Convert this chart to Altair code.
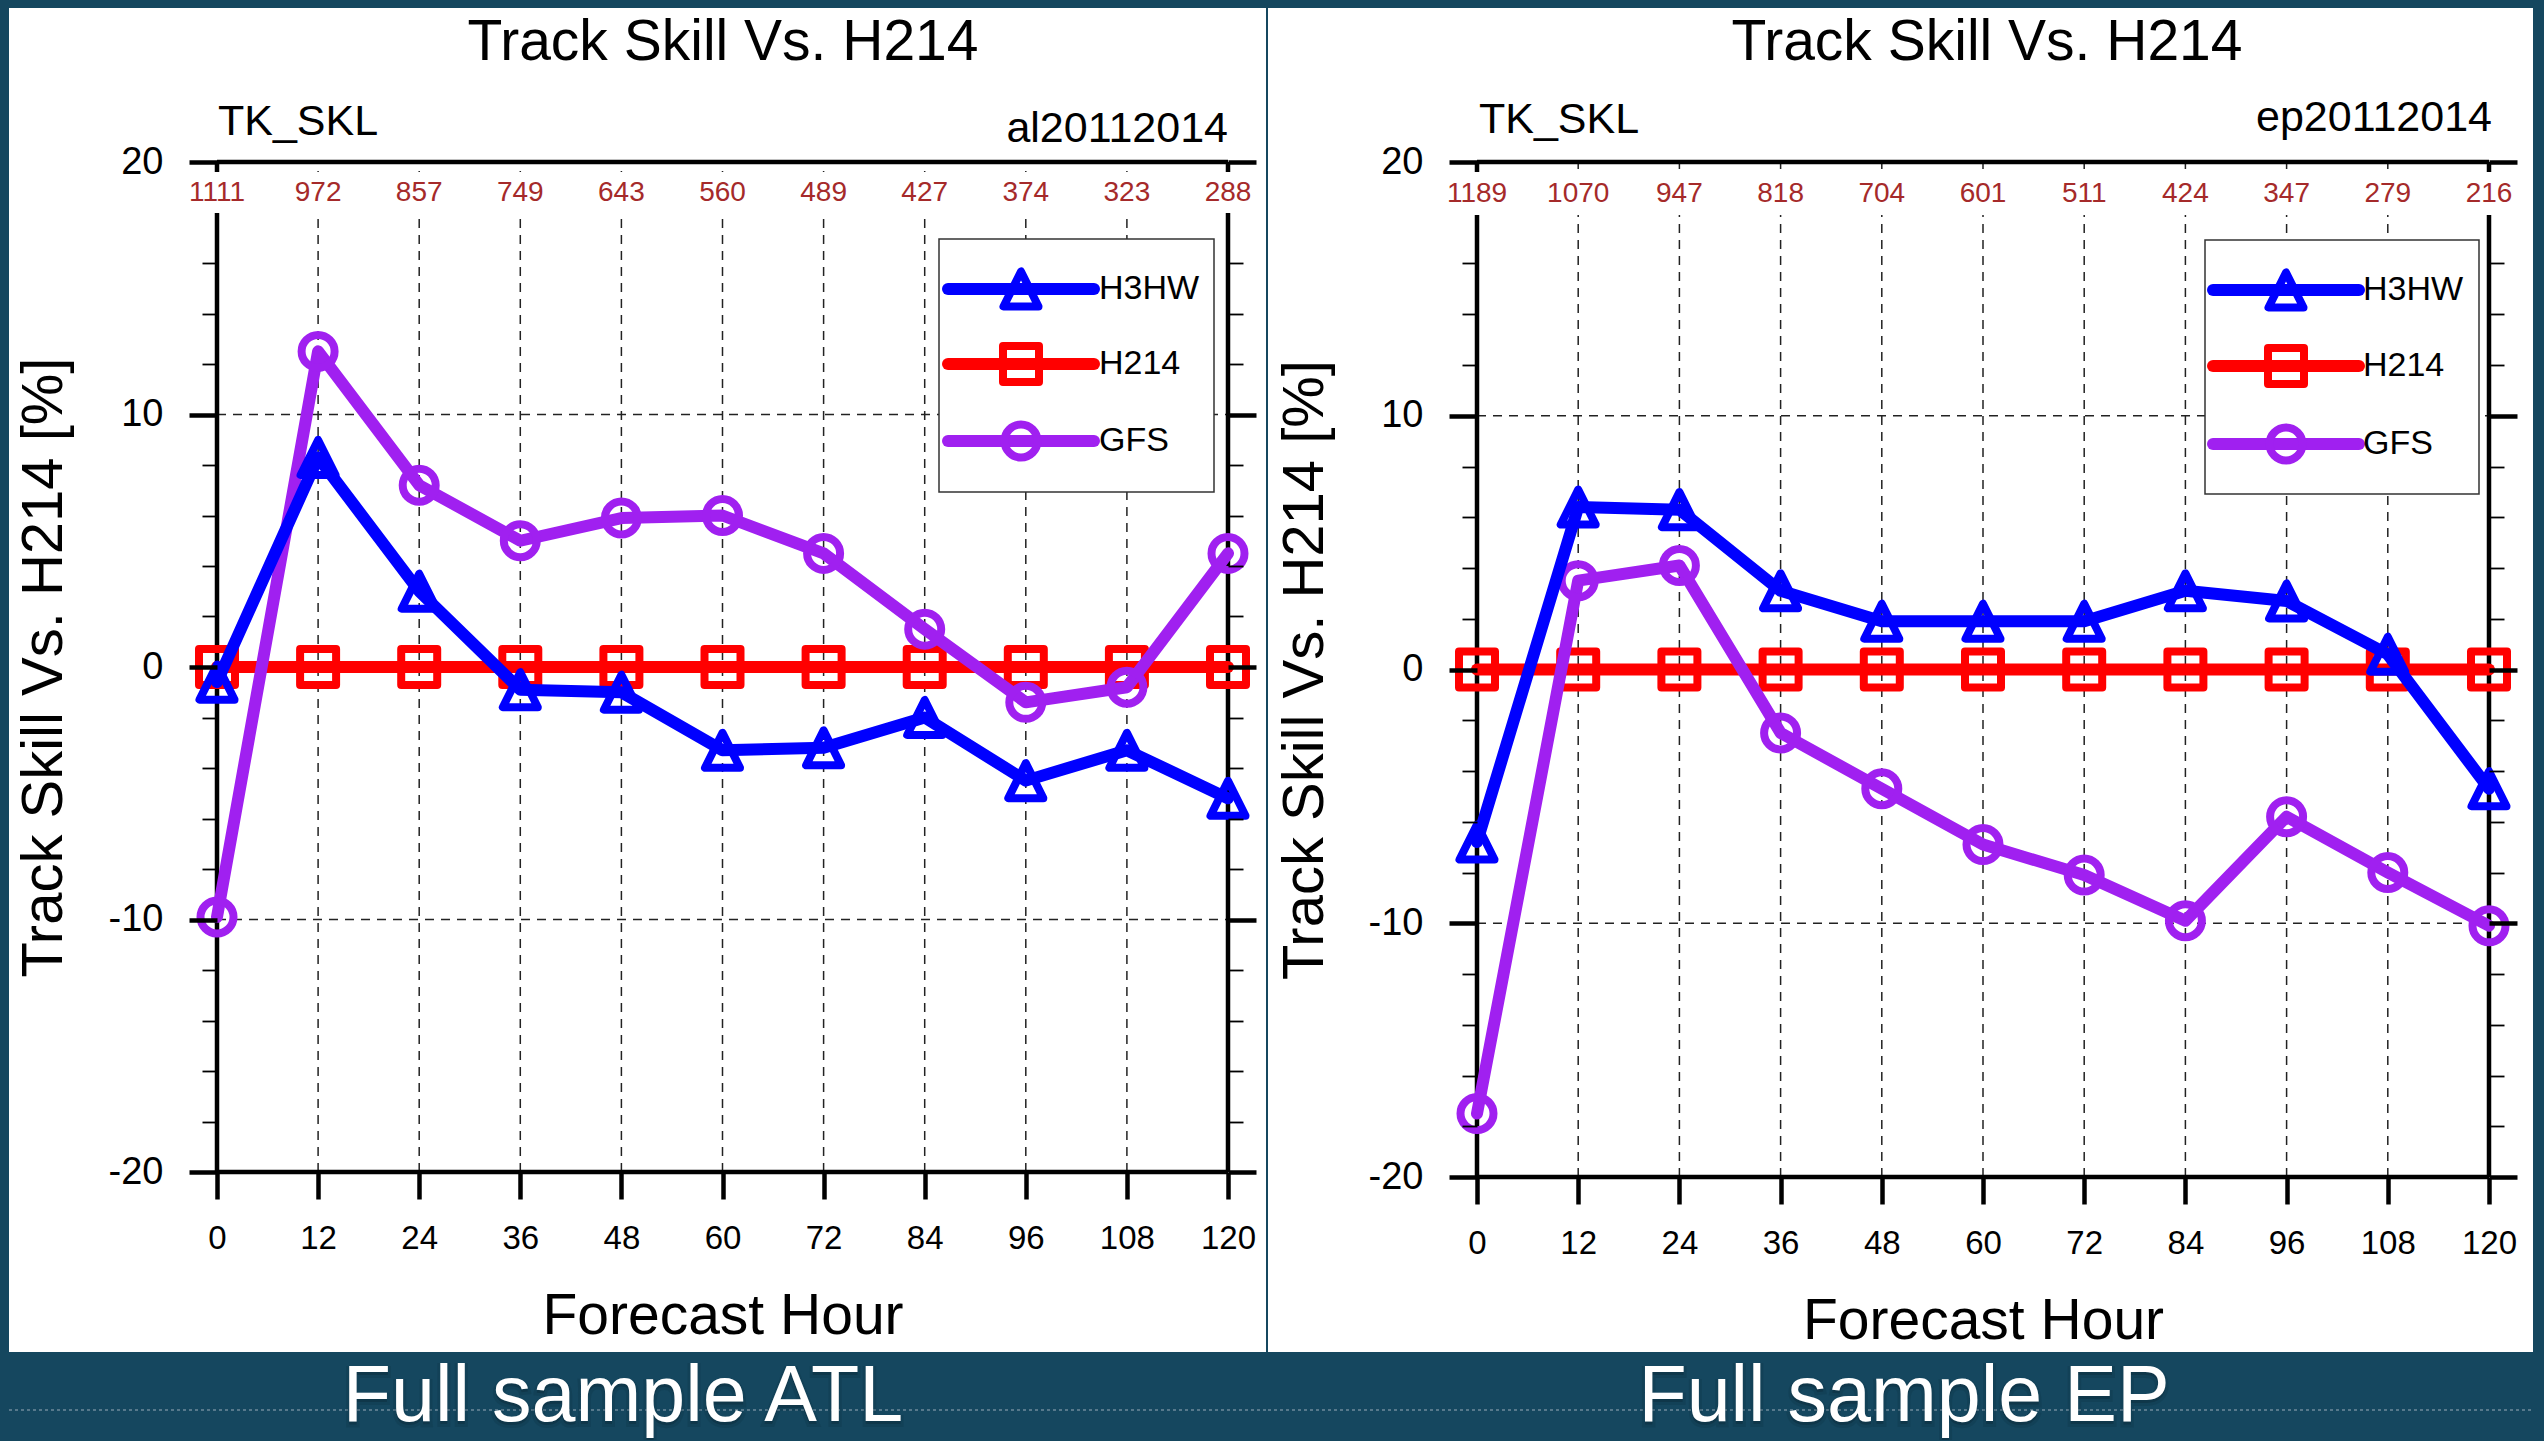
import altair as alt
import pandas as pd

# ---------------- data ----------------
hours = [0, 12, 24, 36, 48, 60, 72, 84, 96, 108, 120]
atl_counts = [1111, 972, 857, 749, 643, 560, 489, 427, 374, 323, 288]
ep_counts = [1189, 1070, 947, 818, 704, 601, 511, 424, 347, 279, 216]

atl_h3hw = [-0.6, 8.3, 3.0, -0.9, -1.0, -3.3, -3.2, -2.0, -4.5, -3.3, -5.2]
atl_h214 = [0, 0, 0, 0, 0, 0, 0, 0, 0, 0, 0]
atl_gfs = [-9.9, 12.5, 7.2, 5.0, 5.9, 6.0, 4.5, 1.5, -1.4, -0.8, 4.5]

ep_h3hw = [-6.8, 6.4, 6.3, 3.1, 1.9, 1.9, 1.9, 3.1, 2.7, 0.6, -4.7]
ep_h214 = [0, 0, 0, 0, 0, 0, 0, 0, 0, 0, 0]
ep_gfs = [-17.5, 3.5, 4.1, -2.5, -4.7, -6.9, -8.1, -9.9, -5.8, -8.0, -10.1]

series_names = ["H3HW", "H214", "GFS"]
y_ticks = [-20, -18, -16, -14, -12, -10, -8, -6, -4, -2, 0, 2, 4, 6, 8, 10, 12, 14, 16, 20]
y_grid = [-10, 0, 10]
y_frame = [-20, 20]
x_frame = [0, 120]
x_grid = [12, 24, 36, 48, 60, 72, 84, 96, 108]

# ---------------- styles ----------------
FONT = "Liberation Sans, Arial, Helvetica, sans-serif"
NAVY = "#15475f"
COUNT_COLOR = "#a52a2a"
TRI = "M0,-1L-1,1L1,1Z"
STYLE = {
    "H3HW": {"color": "#0000ff", "shape": TRI, "size": 1225},
    "H214": {"color": "#ff0000", "shape": "square", "size": 1296},
    "GFS": {"color": "#a020f0", "shape": "circle", "size": 1089},
}
DRAW_ORDER = ["H214", "GFS", "H3HW"]

x_scale = alt.Scale(domain=[0, 120], nice=False, zero=False)
y_scale = alt.Scale(domain=[-20, 20], nice=False, zero=False)
MAJOR = "datum.value % 10 === 0"


def y_axis(orient, show, title_x=0):
    kw = dict(
        orient=orient, values=y_ticks,
        tickSize={"condition": {"test": MAJOR, "value": 28}, "value": 15},
        tickWidth={"condition": {"test": MAJOR, "value": 4.5}, "value": 1.8},
        tickColor="black", domain=False, grid=False, zindex=1,
    )
    if show:
        kw.update(
            labelExpr=MAJOR + " ? '' + datum.value : ''",
            labelFont=FONT, labelFontSize=38, labelColor="black",
            labelPadding=26, labelOverlap=False,
            title="Track Skill Vs. H214 [%]", titleFont=FONT, titleFontSize=58,
            titleFontWeight="normal", titleColor="black", titleX=title_x,
            titleAngle=270, titleBaseline="bottom", titleAlign="center",
        )
    else:
        kw.update(labels=False, title=None)
    return alt.Axis(**kw)


x_axis = alt.Axis(
    orient="bottom", values=hours, tickSize=27, tickWidth=4.5, tickColor="black",
    domain=False, grid=False, labelFont=FONT, labelFontSize=33, labelColor="black",
    labelPadding=23, labelFlush=False, labelOverlap=False,
    title="Forecast Hour", titleFont=FONT, titleFontSize=57, titleFontWeight="normal",
    titleColor="black", titleY=116, titleBaseline="top", zindex=1,
)

one = pd.DataFrame({"k": [0]})


def text_layer(txt, x, y, size, align="left", color="black", **extra):
    return alt.Chart(pd.DataFrame({"t": [txt]})).mark_text(
        font=FONT, fontSize=size, align=align, baseline="alphabetic", color=color, **extra
    ).encode(text="t:N", x=alt.value(x), y=alt.value(y))


def hrules(vals, axis, **style):
    df = pd.DataFrame({"v": vals, "x0": [x_frame[0]] * len(vals), "x1": [x_frame[1]] * len(vals)})
    return alt.Chart(df).mark_rule(**style).encode(
        x=alt.X("x0:Q", scale=x_scale, axis=None), x2="x1:Q",
        y=alt.Y("v:Q", scale=y_scale, axis=axis))


def vrules(vals, axis, **style):
    df = pd.DataFrame({"h": vals, "y0": [y_frame[0]] * len(vals), "y1": [y_frame[1]] * len(vals)})
    return alt.Chart(df).mark_rule(**style).encode(
        x=alt.X("h:Q", scale=x_scale, axis=axis),
        y=alt.Y("y0:Q", scale=y_scale, axis=None), y2="y1:Q")


def panel(counts, vals, tag, caption, W, H, L):
    layers = []
    # white panel
    layers.append(alt.Chart(one).mark_rect(color="white").encode(
        x=alt.value(L["bg"][0]), x2=alt.value(L["bg"][1]),
        y=alt.value(L["bg"][2]), y2=alt.value(L["bg"][3])))
    # grid
    grid_style = dict(color="#222", strokeWidth=1.5, strokeDash=[9, 7])
    layers.append(vrules(x_grid, x_axis, **grid_style))
    layers.append(hrules(y_grid, y_axis("right", False), **grid_style))
    # frame
    layers.append(vrules(x_frame, None, color="black", strokeWidth=4.5))
    layers.append(hrules(y_frame, y_axis("left", True, L["ytx"]), color="black", strokeWidth=4.5))
    # white band for the sample counts
    layers.append(alt.Chart(one).mark_rect(color="white").encode(
        x=alt.value(-6), x2=alt.value(W + 6),
        y=alt.value(10), y2=alt.value(L["band"])))
    layers.append(alt.Chart(pd.DataFrame({"h": hours, "n": counts})).mark_text(
        font=FONT, fontSize=28, color=COUNT_COLOR, baseline="middle").encode(
        x=alt.X("h:Q", scale=x_scale, axis=None), y=alt.value(L["cnt"]), text="n:N"))
    # series
    for name in DRAW_ORDER:
        st = STYLE[name]
        df = pd.DataFrame({"h": hours, "v": vals[name]})
        enc = dict(x=alt.X("h:Q", scale=x_scale, axis=None),
                   y=alt.Y("v:Q", scale=y_scale, axis=None))
        layers.append(alt.Chart(df).mark_line(
            color=st["color"], strokeWidth=12, strokeJoin="round", strokeCap="round").encode(**enc))
        layers.append(alt.Chart(df).mark_point(
            shape=st["shape"], size=st["size"], filled=False, strokeWidth=8,
            color=st["color"], opacity=1, strokeJoin="round").encode(**enc))
    # legend
    lg = L["leg"]
    layers.append(alt.Chart(one).mark_rect(fill="white", stroke="#333", strokeWidth=1.5).encode(
        x=alt.value(lg["box"][0]), x2=alt.value(lg["box"][1]),
        y=alt.value(lg["box"][2]), y2=alt.value(lg["box"][3])))
    for name, ry in zip(series_names, lg["rows"]):
        st = STYLE[name]
        layers.append(alt.Chart(one).mark_rule(
            color=st["color"], strokeWidth=12, strokeCap="round").encode(
            x=alt.value(lg["line"][0]), x2=alt.value(lg["line"][1]), y=alt.value(ry)))
        layers.append(alt.Chart(one).mark_point(
            shape=st["shape"], size=st["size"], filled=False, strokeWidth=8,
            color=st["color"], opacity=1, strokeJoin="round").encode(
            x=alt.value(lg["mx"]), y=alt.value(ry)))
        layers.append(alt.Chart(pd.DataFrame({"t": [name]})).mark_text(
            font=FONT, fontSize=34, align="left", baseline="middle", color="black").encode(
            text="t:N", x=alt.value(lg["lx"]), y=alt.value(ry)))
    # titles
    layers.append(text_layer("Track Skill Vs. H214", L["title"][0], L["title"][1], 57, "center"))
    layers.append(text_layer("TK_SKL", L["tk"][0], L["tk"][1], 43, "left"))
    layers.append(text_layer(tag, L["tag"][0], L["tag"][1], 43, "right"))
    # bottom band decoration and caption
    layers.append(alt.Chart(one).mark_rule(
        color="#8ea3b1", strokeWidth=2, strokeDash=[3, 3], opacity=0.55).encode(
        x=alt.value(L["bg"][0]), x2=alt.value(L["bg"][1]), y=alt.value(L["tex"])))
    layers.append(text_layer(caption, L["cap"][0], L["cap"][1], 79, "center",
                             color="#0b2a3a", opacity=0.55, dy=3, stroke="#0b2a3a",
                             strokeWidth=6, strokeOpacity=0.35))
    layers.append(text_layer(caption, L["cap"][0], L["cap"][1], 79, "center", color="white"))
    return alt.layer(*layers).properties(width=W, height=H).resolve_axis(
        x="independent", y="independent")


left_layout = {
    "bg": [-208, 1049, -154, 1190], "band": 51, "cnt": 31, "ytx": -144,
    "title": [506, -102], "tk": [1, -27], "tag": [1011, -20],
    "leg": {"box": [722, 997, 77, 330], "line": [731, 877], "mx": 804,
            "rows": [127, 202, 279], "lx": 882},
    "tex": 1248, "cap": [406, 1259],
}
right_layout = {
    "bg": [-209, 1056, -154, 1190], "band": 53, "cnt": 32, "ytx": -143,
    "title": [510, -102], "tk": [2, -29], "tag": [1015, -31],
    "leg": {"box": [728, 1002, 78, 332], "line": [736, 882], "mx": 809,
            "rows": [128, 204, 282], "lx": 886},
    "tex": 1248, "cap": [427, 1259],
}

left = panel(atl_counts, {"H3HW": atl_h3hw, "H214": atl_h214, "GFS": atl_gfs},
             "al20112014", "Full sample ATL", 1011, 1010, left_layout)
right = panel(ep_counts, {"H3HW": ep_h3hw, "H214": ep_h214, "GFS": ep_gfs},
              "ep20112014", "Full sample EP", 1012, 1015, right_layout)

chart = alt.hconcat(left, right, spacing=249, bounds="flush").properties(
    background=NAVY, padding=0
).configure_view(stroke=None)

chart.save("out.html", embed_options={
    "renderer": "svg", "actions": False,
    "defaultStyle": "body{background:#15475f;overflow:hidden;}",
})
